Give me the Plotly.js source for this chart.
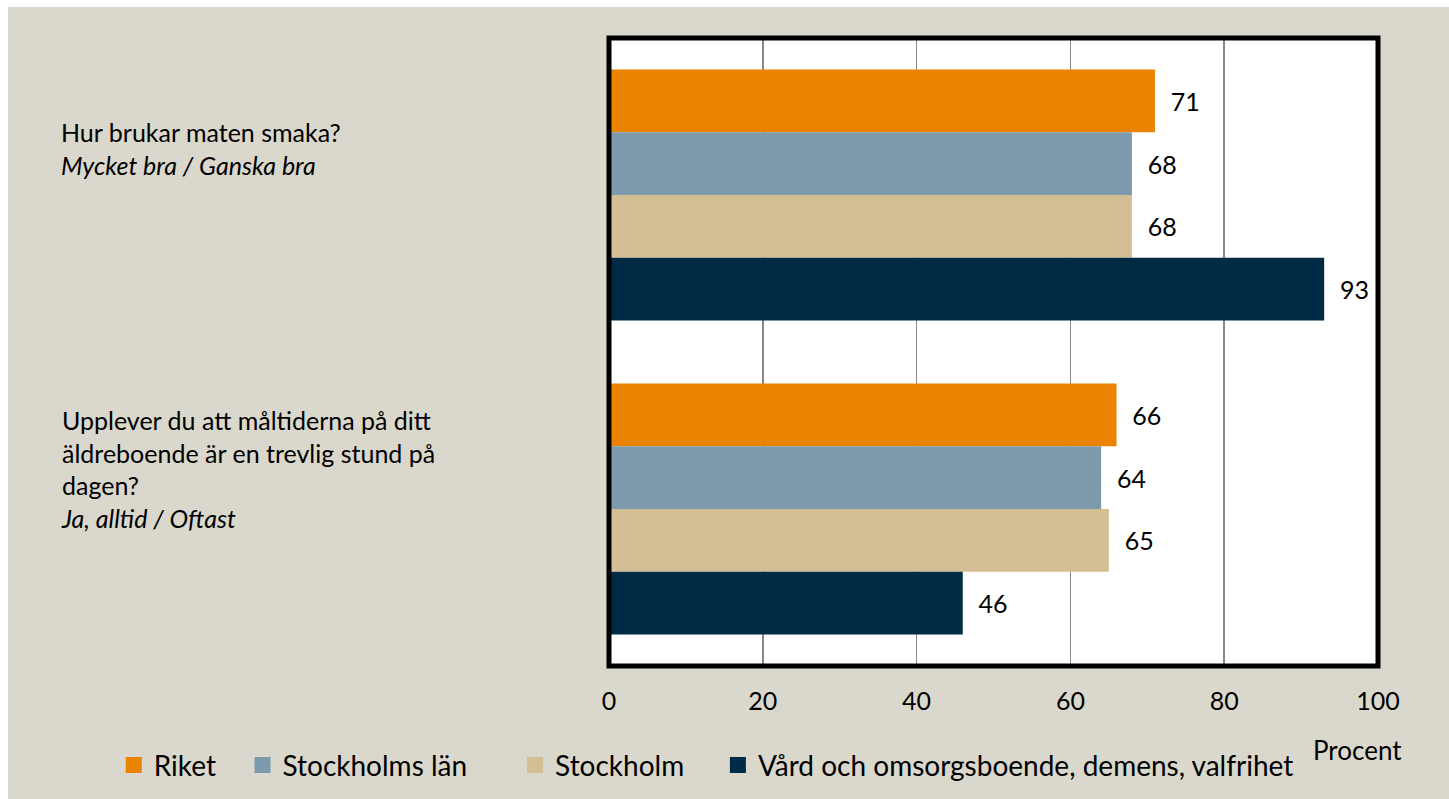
<!DOCTYPE html>
<html>
<head>
<meta charset="utf-8">
<script src="https://cdn.plot.ly/plotly-3.0.1.min.js"></script>
<style>
  html, body { margin: 0; padding: 0; background: #ffffff; }
  #chart { position: absolute; left: 8px; top: 7px; width: 1441px; height: 792px; }
</style>
</head>
<body>
<div id="chart"></div>
<script>
// ---- data ----
const categories = ["Hur brukar maten smaka?", "Upplever du att måltiderna på ditt äldreboende är en trevlig stund på dagen?"];
const categoryLabels = [
  "Hur brukar maten smaka?<br><i>Mycket bra / Ganska bra</i>",
  "Upplever du att måltiderna på ditt<br>äldreboende är en trevlig stund på<br>dagen?<br><i>Ja, alltid / Oftast</i>"
];
const seriesNames = ["Riket", "Stockholms län", "Stockholm", "Vård och omsorgsboende, demens, valfrihet"];
const riket = [71, 66];
const stockholmsLan = [68, 64];
const stockholm = [68, 65];
const vardOmsorg = [93, 46];
const xTicks = [0, 20, 40, 60, 80, 100];
const axisTitle = "Procent";

// ---- styles ----
const colors = ["#E98300", "#7E9BAD", "#D4BF95", "#002B45"];
const FONT = "Lato, 'Open Sans', sans-serif";
const legendPad = [3, 6, 4, 0]; // extra spacing after legend entries
const seriesValues = [riket, stockholmsLan, stockholm, vardOmsorg];

const traces = [];
seriesValues.forEach((vals, i) => {
  traces.push({
    type: "bar",
    orientation: "h",
    name: seriesNames[i],
    y: categories,
    x: vals,
    marker: { color: colors[i], line: { width: 0 } },
    texttemplate: "\u00a0\u00a0%{x}",
    textposition: "outside",
    cliponaxis: false,
    textfont: { family: FONT, size: 25, color: "#000000" },
    showlegend: false,
    hoverinfo: "skip"
  });
});
// legend entries (square swatches)
seriesValues.forEach((vals, i) => {
  traces.push({
    type: "scatter",
    mode: "markers",
    name: seriesNames[i] + "\u00a0".repeat(legendPad[i]),
    x: [null],
    y: [null],
    marker: { symbol: "square", size: 16, color: colors[i], line: { width: 0 } },
    showlegend: true,
    hoverinfo: "skip"
  });
});

const annotations = categories.map((c, i) => ({
  xref: "paper", yref: "y",
  x: -0.715, y: c,
  xanchor: "left", yanchor: "middle", align: "left",
  yshift: i === 0 ? 47 : 40,
  text: categoryLabels[i],
  showarrow: false,
  font: { family: FONT, size: 25, color: "#000000" }
}));
annotations.push({
  xref: "paper", yref: "paper",
  x: 1.034, y: -0.134,
  xanchor: "right", yanchor: "middle",
  text: axisTitle, showarrow: false,
  font: { family: FONT, size: 26, color: "#000000" }
});

const layout = {
  width: 1441, height: 792,
  paper_bgcolor: "#DAD8CC",
  plot_bgcolor: "#FFFFFF",
  margin: { l: 601, r: 71, t: 31, b: 133, autoexpand: false },
  barmode: "group",
  bargap: 0.2,
  bargroupgap: 0,
  font: { family: FONT, size: 25, color: "#000000" },
  xaxis: {
    range: [0, 100],
    tickvals: xTicks,
    ticktext: xTicks.map(String),
    showgrid: true,
    gridcolor: "#888888",
    gridwidth: 1.5,
    zeroline: false,
    showline: false,
    ticks: "",
    ticklabelstandoff: 18,
    tickfont: { family: FONT, size: 25, color: "#000000" },
    fixedrange: true
  },
  yaxis: {
    type: "category",
    categoryorder: "array",
    categoryarray: categories,
    autorange: "reversed",
    showticklabels: false,
    showgrid: false,
    zeroline: false,
    showline: false,
    ticks: "",
    fixedrange: true
  },
  shapes: [{
    type: "rect", xref: "paper", yref: "paper",
    x0: 0, x1: 1, y0: 0, y1: 1,
    line: { color: "#000000", width: 5 },
    fillcolor: "rgba(0,0,0,0)",
    layer: "above"
  }],
  legend: {
    orientation: "h",
    xref: "paper", yref: "paper",
    x: -0.644, y: -0.158,
    xanchor: "left", yanchor: "middle",
    bgcolor: "rgba(0,0,0,0)",
    font: { family: FONT, size: 28, color: "#000000" },
    itemclick: false, itemdoubleclick: false
  },
  annotations: annotations,
  showlegend: true
};

Plotly.newPlot("chart", traces, layout, { displayModeBar: false, staticPlot: true });
</script>
</body>
</html>
